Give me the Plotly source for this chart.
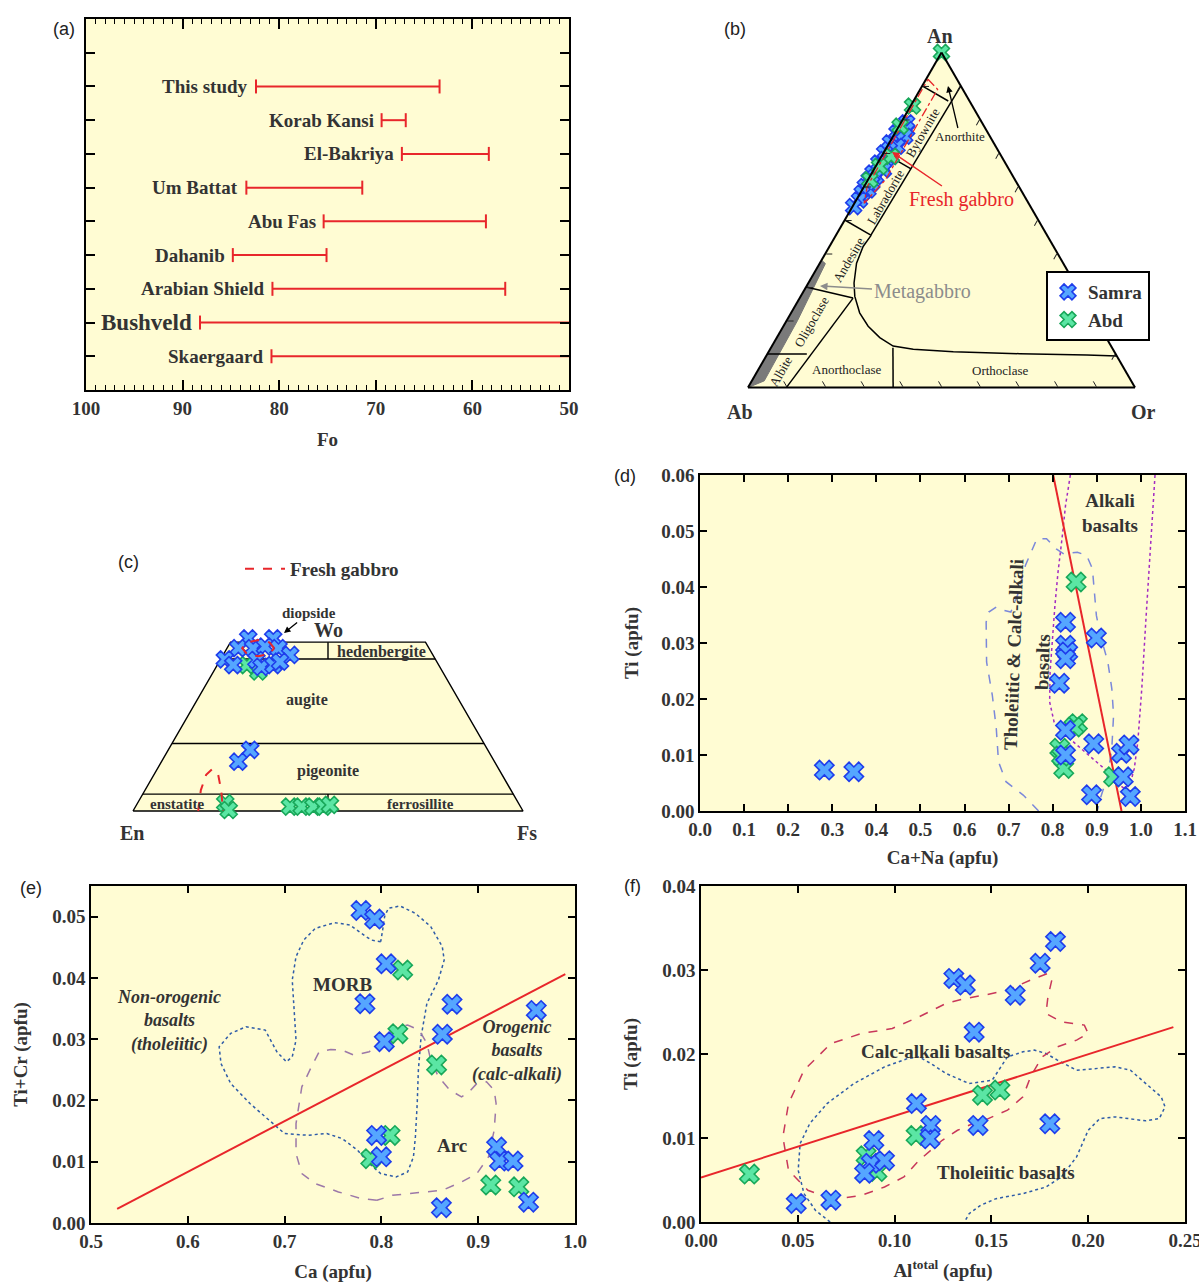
import math
import plotly.graph_objects as go

W, H = 1199, 1284
def fx(p): return p / W
def fy(p): return 1 - p / H

CREAM = "#FFFCD3"
SERIF = "Liberation Serif"
SANS = "Liberation Sans"
TXT = "#333333"
BLUE_FILL, BLUE_LINE = "#55A6FF", "#1F3DEB"
GREEN_FILL, GREEN_LINE = "#5BE6A4", "#19A85A"
RED = "#E8262B"

# ---------------- (a) olivine Fo ranges ----------------
a_sites = ["Skaergaard", "Bushveld", "Arabian Shield", "Dahanib", "Abu Fas",
           "Um Battat", "El-Bakriya", "Korab Kansi", "This study"]
a_fo_high = [80.8, 88.2, 80.7, 84.8, 75.4, 83.4, 67.3, 69.4, 82.4]
a_fo_low = [50.0, 50.0, 56.6, 75.1, 58.6, 71.4, 58.3, 66.9, 63.4]

# ---------------- (b) feldspar An-Ab-Or ----------------
b_samra_an = [79, 77, 76, 75, 74, 73, 72, 71, 70, 69, 68, 67, 66, 65, 64, 63, 62, 61, 60, 59, 58, 56, 54]
b_samra_or = [1.5, 2.5, 0.5, 3, 1.5, 0.3, 2.5, 1, 0.3, 2.5, 1.5, 0.3, 1.5, 2.5, 0.3, 1.5, 0.3, 1.5, 0.3, 1.5, 0.5, 0.8, 0.3]
b_abd_an = [100, 84, 78, 69, 66, 62]
b_abd_or = [0, 0.5, 0.3, 2.5, 1, 0.5]

# field boundaries (An, Or) pairs
b_inner_an = [90, 45.5]; b_inner_or = [10, 9]
b_div_an = [[90, 85.5], [70, 65.25], [50, 45.5], [30, 26.7], [10, 10]]
b_div_or = [[0, 9], [0, 9.5], [0, 9], [0, 13.8], [0, 10.2]]
b_obl_an = [0, 26.7]; b_obl_or = [9.9, 13.8]
b_curve_an = [45.5, 42.1, 37.1, 31.2, 27.2, 22.3, 18.3, 14.9, 12.4, 11.4, 10.7, 10.1, 9.7, 9.4]
b_curve_or = [9.1, 8.7, 9.5, 11.8, 14.0, 17.7, 21.9, 26.6, 31.3, 37.0, 47.7, 65.2, 82.7, 90.6]
b_vert_an = [11.9, 0]; b_vert_or = [31.5, 37.5]
b_meta_an = [0, 38, 37, 20, 2, 0]
b_meta_or = [0, 0, 1.5, 2.8, 3.2, 0]
b_fresh_an = [92, 89, 62, 55, 60, 92]
b_fresh_or = [0.5, 4.5, 4.5, 2.5, 0.8, 0.5]

# ---------------- (c) pyroxene quadrilateral (Wo, Fs) ----------------
c_samra_wo = [51.1, 51.1, 48.2, 48.2, 48.7, 48.2, 46.2, 44.9, 43.2, 44.7, 42.7, 43.2, 44.2, 18.1, 14.6]
c_samra_fs = [4.0, 10.4, 2.9, 6.7, 9.5, 13.2, 17.2, 1.1, 4.1, 9.3, 11.6, 14.4, 15.6, 21.0, 19.7]
c_abd_wo = [43.2, 41.3, 2.3, 0.3, 1.3, 1.3, 1.3, 1.3, 1.8]
c_abd_fs = [7.6, 11.5, 22.5, 24.4, 39.6, 42.6, 45.6, 48.2, 49.6]
c_fg_wo = [48.2, 49.9, 50.6, 49.9, 48.2, 46.5, 45.8, 46.5, 48.2, None, 0, 6.2, 10.7, 12.4, 10.7, 6.2, 0]
c_fg_fs = [12.1, 10.05, 6.8, 4.25, 3.9, 5.95, 9.2, 11.75, 12.1, None, 16.7, 14.3, 13.4, 14.1, 16.5, 19.5, 23.1]
c_trap_wo = [0, 0, 50, 50, 0]
c_trap_fs = [0, 100, 50, 0, 0]
c_div_wo = [45, 45, None, 20, 20, None, 5, 5, None, 45, 50, None, 0, 5]
c_div_fs = [0, 55, None, 0, 80, None, 0, 95, None, 27.5, 25, None, 50, 47.5]

# ---------------- (d) Ti vs Ca+Na ----------------
d_samra_x = [0.282, 0.349, 0.829, 0.899, 0.829, 0.834, 0.829, 0.815, 0.829, 0.893, 0.829, 0.956, 0.973, 0.960, 0.888, 0.976]
d_samra_y = [0.0073, 0.0070, 0.0337, 0.0309, 0.0296, 0.0284, 0.0272, 0.0228, 0.0144, 0.0120, 0.0100, 0.0103, 0.0118, 0.0061, 0.0029, 0.0026]
d_abd_x = [0.853, 0.856, 0.848, 0.816, 0.825, 0.938, 0.820]
d_abd_y = [0.0409, 0.0156, 0.0150, 0.0112, 0.0076, 0.0061, 0.0098]
d_line_x = [0.801, 0.956]; d_line_y = [0.06, 0.0]
d_thol_x = [0.768, 0.733, 0.694, 0.677, 0.672, 0.663, 0.650, 0.649, 0.655, 0.672, 0.690, 0.705, 0.720, 0.738, 0.764,
            0.786, 0.808, 0.825, 0.856, 0.877, 0.890, 0.895, 0.899, 0.908, 0.925, 0.934, 0.938, 0.934, 0.925, 0.908, 0.901]
d_thol_y = [0.0, 0.00285, 0.00523, 0.00879, 0.01473, 0.02067, 0.02661, 0.03374, 0.03553, 0.03642, 0.03582, 0.03553,
            0.03850, 0.04384, 0.04860, 0.04860, 0.04681, 0.04592, 0.04622, 0.04562, 0.04325, 0.03850, 0.03493,
            0.03137, 0.02661, 0.02186, 0.01711, 0.01117, 0.00642, 0.00226, 0.0]
d_alk_x = [0.840, 0.829, 0.821, 0.812, 0.805, 0.799, 0.794, 0.793, 0.803, 0.829, 0.864, 0.899, 0.925, 0.947, 0.962,
           0.976, 0.985, 0.993, 1.002, 1.011, 1.020, 1.027, 1.032]
d_alk_y = [0.06, 0.05454, 0.04860, 0.04265, 0.03671, 0.03077, 0.02483, 0.01949, 0.01592, 0.01355, 0.01117, 0.00879,
           0.00701, 0.00493, 0.00404, 0.00493, 0.00760, 0.01236, 0.02186, 0.03374, 0.04562, 0.05454, 0.06]

# ---------------- (e) Ti+Cr vs Ca ----------------
e_samra_x = [0.779, 0.793, 0.805, 0.783, 0.873, 0.960, 0.863, 0.803, 0.795, 0.800, 0.919, 0.922, 0.936, 0.952, 0.862]
e_samra_y = [0.0510, 0.0496, 0.0423, 0.0358, 0.0357, 0.0347, 0.0308, 0.0296, 0.0143, 0.0108, 0.0124, 0.0101, 0.0101, 0.0034, 0.0025]
e_abd_x = [0.822, 0.817, 0.857, 0.809, 0.789, 0.913, 0.942]
e_abd_y = [0.0413, 0.0309, 0.0258, 0.0143, 0.0105, 0.0062, 0.0059]
e_line_x = [0.527, 0.990]; e_line_y = [0.0023, 0.0406]
e_morb_x = [0.7993, 0.7893, 0.7794, 0.7675, 0.7516, 0.7317, 0.7198, 0.7118, 0.7079, 0.7099, 0.7118, 0.7079, 0.7019,
            0.6920, 0.6800, 0.6602, 0.6443, 0.6324, 0.6343, 0.6443, 0.6642, 0.6840, 0.6999, 0.7238, 0.7436, 0.7595,
            0.7754, 0.7874, 0.7993, 0.8152, 0.8271, 0.8331, 0.8351, 0.8370, 0.8382, 0.8410, 0.8470, 0.8589, 0.8649,
            0.8629, 0.8510, 0.8351, 0.8192, 0.8072, 0.8033, 0.8013, 0.7993]
e_morb_y = [0.04591, 0.04619, 0.04728, 0.04864, 0.04902, 0.04809, 0.04619, 0.04346, 0.03965, 0.03475, 0.02985,
            0.02712, 0.02631, 0.02794, 0.03148, 0.03203, 0.03094, 0.02876, 0.02603, 0.02277, 0.01950, 0.01678,
            0.01460, 0.01432, 0.01460, 0.01378, 0.01187, 0.00969, 0.00806, 0.00752, 0.00833, 0.01078, 0.01405,
            0.01950, 0.02495, 0.03039, 0.03584, 0.03965, 0.04292, 0.04510, 0.04837, 0.05054, 0.05174, 0.05136,
            0.05000, 0.04782, 0.04591]
e_arc_x = [0.7953, 0.7794, 0.7556, 0.7317, 0.7178, 0.7118, 0.7118, 0.7178, 0.7277, 0.7357, 0.7476, 0.7595, 0.7715,
           0.7874, 0.8033, 0.8152, 0.8271, 0.8390, 0.8470, 0.8510, 0.8589, 0.8708, 0.8828, 0.8907, 0.8986, 0.9086,
           0.9165, 0.9185, 0.9165, 0.9106, 0.8986, 0.8828, 0.8629, 0.8351, 0.8112, 0.7953]
e_arc_y = [0.00370, 0.00398, 0.00507, 0.00643, 0.00806, 0.01133, 0.01623, 0.02222, 0.02549, 0.02794, 0.02832,
           0.02821, 0.02740, 0.02794, 0.02985, 0.03203, 0.03230, 0.03148, 0.02930, 0.02658, 0.02386, 0.02168,
           0.02059, 0.02141, 0.02277, 0.02304, 0.02168, 0.01950, 0.01514, 0.01078, 0.00806, 0.00670, 0.00534,
           0.00490, 0.00452, 0.00370]

# ---------------- (f) Ti vs Al total ----------------
f_samra_x = [0.1306, 0.1365, 0.1623, 0.1752, 0.1831, 0.1411, 0.1113, 0.1187, 0.1183, 0.1431, 0.1802, 0.0893, 0.0879,
             0.0948, 0.0845, 0.0492, 0.0671]
f_samra_y = [0.0290, 0.0282, 0.0270, 0.0308, 0.0334, 0.0226, 0.0141, 0.0115, 0.0099, 0.0115, 0.0117, 0.0097, 0.0070,
             0.0073, 0.0058, 0.0022, 0.0026]
f_abd_x = [0.025, 0.0853, 0.0909, 0.1111, 0.1454, 0.1544]
f_abd_y = [0.0057, 0.0079, 0.0060, 0.0103, 0.0151, 0.0157]
f_line_x = [0.0, 0.244]; f_line_y = [0.0053, 0.0232]
f_calc_x = [0.0671, 0.0552, 0.0452, 0.0423, 0.0452, 0.0532, 0.0671, 0.0829, 0.0988, 0.1127, 0.1266, 0.1365, 0.1464,
            0.1583, 0.1702, 0.1792, 0.1812, 0.1792, 0.1782, 0.1861, 0.1980, 0.2000, 0.1940, 0.1841, 0.1762, 0.1702,
            0.1663, 0.1583, 0.1484, 0.1405, 0.1325, 0.1246, 0.1187, 0.1127, 0.1048, 0.0948, 0.0829, 0.0710, 0.0671]
f_calc_y = [0.00278, 0.00377, 0.00616, 0.01013, 0.01410, 0.01807, 0.02125, 0.02244, 0.02304, 0.02443, 0.02602,
            0.02661, 0.02701, 0.02761, 0.02880, 0.02959, 0.02880, 0.02681, 0.02483, 0.02383, 0.02344, 0.02244,
            0.02165, 0.02085, 0.01966, 0.01728, 0.01490, 0.01331, 0.01231, 0.01172, 0.01092, 0.00973, 0.00854,
            0.00735, 0.00536, 0.00417, 0.00318, 0.00278, 0.00278]
f_thol_x = [0.0667, 0.0591, 0.0532, 0.0502, 0.0512, 0.0562, 0.0651, 0.0790, 0.0948, 0.1067, 0.1127, 0.1187, 0.1266,
            0.1385, 0.1504, 0.1583, 0.1663, 0.1722, 0.1782, 0.1841, 0.1940, 0.2040, 0.2139, 0.2218, 0.2298, 0.2377,
            0.2397, 0.2367, 0.2298, 0.2218, 0.2139, 0.2060, 0.2000, 0.1940, 0.1861, 0.1782, 0.1663, 0.1524, 0.1444,
            0.1385, 0.1361]
f_thol_y = [0.0, 0.00139, 0.00338, 0.00616, 0.00933, 0.01172, 0.01410, 0.01648, 0.01847, 0.01946, 0.01966, 0.01887,
            0.01768, 0.01648, 0.01688, 0.01966, 0.02026, 0.02046, 0.02006, 0.01927, 0.01807, 0.01827, 0.01847,
            0.01807, 0.01648, 0.01490, 0.01370, 0.01231, 0.01204, 0.01231, 0.01251, 0.01231, 0.01092, 0.00775,
            0.00536, 0.00417, 0.00338, 0.00278, 0.00199, 0.00099, 0.0]

fig = go.Figure()

def mk(fill, line, size):
    return dict(symbol="x", size=size, color=fill, line=dict(color=line, width=1.6))

# ---- (a) ----
bx, by, cx, cy = [], [], [], []
for i, (hi, lo) in enumerate(zip(a_fo_high, a_fo_low)):
    pos = i + 1
    bx += [hi, lo, None]; by += [pos, pos, None]
    cx.append(hi); cy.append(pos)
    if lo > 50:
        cx.append(lo); cy.append(pos)
fig.add_trace(go.Scatter(x=bx, y=by, mode="lines", line=dict(color=RED, width=2),
                         xaxis="x", yaxis="y", showlegend=False, hoverinfo="skip"))
fig.add_trace(go.Scatter(x=cx, y=cy, mode="markers", xaxis="x", yaxis="y", showlegend=False,
                         marker=dict(symbol="line-ns", size=10, line=dict(color=RED, width=2))))

# ---- (b) ternary ----
def tern(an, orr):
    a = list(an); c = list(orr)
    b = [None if (x is None) else 100 - x - y for x, y in zip(a, c)]
    return a, b, c

def tline(an, orr, color="black", width=1.5, dash="solid", fill=None, fillcolor=None):
    a, b, c = tern(an, orr)
    fig.add_trace(go.Scatterternary(a=a, b=b, c=c, mode="lines", subplot="ternary", showlegend=False,
                                    line=dict(color=color, width=width, dash=dash), fill=fill,
                                    fillcolor=fillcolor, hoverinfo="skip"))

tline(b_meta_an, b_meta_or, color="#777777", width=1, fill="toself", fillcolor="#7a7a7a")
tline(b_inner_an, b_inner_or)
for an_, or_ in zip(b_div_an, b_div_or):
    tline(an_, or_)
tline(b_obl_an, b_obl_or)
tline(b_curve_an, b_curve_or)
tline(b_vert_an, b_vert_or)

a, b, c = tern(b_samra_an, b_samra_or)
fig.add_trace(go.Scatterternary(a=a, b=b, c=c, mode="markers", subplot="ternary", name="Samra",
                                marker=mk(BLUE_FILL, BLUE_LINE, 14), showlegend=True, legend="legend",
                                cliponaxis=False))
a, b, c = tern(b_abd_an, b_abd_or)
fig.add_trace(go.Scatterternary(a=a, b=b, c=c, mode="markers", subplot="ternary", name="Abd",
                                marker=mk(GREEN_FILL, GREEN_LINE, 14), showlegend=True, legend="legend",
                                cliponaxis=False))
tline(b_fresh_an, b_fresh_or, color=RED, width=1.3, dash="dashdot")

# ---- (c) pyroxene quadrilateral (cartesian from Wo/Fs) ----
S3 = math.sqrt(3) / 2
def qx(wo, fs): return [None if w is None else f + w / 2 for w, f in zip(wo, fs)]
def qy(wo): return [None if w is None else w * S3 for w in wo]

fig.add_trace(go.Scatter(x=qx(c_trap_wo, c_trap_fs), y=qy(c_trap_wo), mode="lines", fill="toself",
                         fillcolor=CREAM, line=dict(color="black", width=1.4), xaxis="x3", yaxis="y3",
                         showlegend=False, hoverinfo="skip"))
fig.add_trace(go.Scatter(x=qx(c_div_wo, c_div_fs), y=qy(c_div_wo), mode="lines",
                         line=dict(color="black", width=1.4), xaxis="x3", yaxis="y3", showlegend=False,
                         hoverinfo="skip"))
fig.add_trace(go.Scatter(x=qx(c_abd_wo, c_abd_fs), y=qy(c_abd_wo), mode="markers", marker=mk(GREEN_FILL, GREEN_LINE, 15),
                         xaxis="x3", yaxis="y3", showlegend=False))
fig.add_trace(go.Scatter(x=qx(c_samra_wo, c_samra_fs), y=qy(c_samra_wo), mode="markers", marker=mk(BLUE_FILL, BLUE_LINE, 15),
                         xaxis="x3", yaxis="y3", showlegend=False))
fig.add_trace(go.Scatter(x=qx(c_fg_wo, c_fg_fs), y=qy(c_fg_wo), mode="lines", name="Fresh gabbro",
                         line=dict(color=RED, width=2, dash="dash"), xaxis="x3", yaxis="y3",
                         showlegend=True, legend="legend2", hoverinfo="skip"))

# ---- (d) ----
def field(x, y, ax, ay, color, dash, width=1.5):
    fig.add_trace(go.Scatter(x=x, y=y, mode="lines", line=dict(color=color, width=width, dash=dash),
                             xaxis=ax, yaxis=ay, showlegend=False, hoverinfo="skip"))

field(d_thol_x, d_thol_y, "x4", "y4", "#7B88DA", "dash")
field(d_alk_x, d_alk_y, "x4", "y4", "#A32BC2", "dot")
field(d_line_x, d_line_y, "x4", "y4", RED, "solid", 2)
fig.add_trace(go.Scatter(x=d_abd_x, y=d_abd_y, mode="markers", marker=mk(GREEN_FILL, GREEN_LINE, 17),
                         xaxis="x4", yaxis="y4", showlegend=False))
fig.add_trace(go.Scatter(x=d_samra_x, y=d_samra_y, mode="markers", marker=mk(BLUE_FILL, BLUE_LINE, 17),
                         xaxis="x4", yaxis="y4", showlegend=False))

# ---- (e) ----
field(e_morb_x, e_morb_y, "x5", "y5", "#2F5CA8", "dot")
field(e_arc_x, e_arc_y, "x5", "y5", "#9C78A8", "dash")
field(e_line_x, e_line_y, "x5", "y5", RED, "solid", 2)
fig.add_trace(go.Scatter(x=e_abd_x, y=e_abd_y, mode="markers", marker=mk(GREEN_FILL, GREEN_LINE, 17),
                         xaxis="x5", yaxis="y5", showlegend=False))
fig.add_trace(go.Scatter(x=e_samra_x, y=e_samra_y, mode="markers", marker=mk(BLUE_FILL, BLUE_LINE, 17),
                         xaxis="x5", yaxis="y5", showlegend=False))

# ---- (f) ----
field(f_thol_x, f_thol_y, "x6", "y6", "#2F5CA8", "dot")
field(f_calc_x, f_calc_y, "x6", "y6", "#C8375A", "dash")
field(f_line_x, f_line_y, "x6", "y6", RED, "solid", 2)
fig.add_trace(go.Scatter(x=f_abd_x, y=f_abd_y, mode="markers", marker=mk(GREEN_FILL, GREEN_LINE, 17),
                         xaxis="x6", yaxis="y6", showlegend=False))
fig.add_trace(go.Scatter(x=f_samra_x, y=f_samra_y, mode="markers", marker=mk(BLUE_FILL, BLUE_LINE, 17),
                         xaxis="x6", yaxis="y6", showlegend=False))

# ---------------- axes ----------------
TICKFONT = dict(family=SERIF, size=19, color=TXT, weight="bold")
TITLEFONT = dict(family=SERIF, size=19, color=TXT, weight="bold")

def ax(domain_px, rng, horizontal, **kw):
    if horizontal:
        dom = [fx(domain_px[0]), fx(domain_px[1])]
    else:
        dom = [fy(domain_px[1]), fy(domain_px[0])]
    d = dict(domain=dom, range=rng, showline=True, linecolor="black", linewidth=1.6, mirror="ticks",
             ticks="inside", ticklen=7, tickwidth=1.5, tickcolor="black", showgrid=False, zeroline=False,
             tickfont=TICKFONT, fixedrange=True, automargin=False, ticklabeloverflow="allow")
    d.update(kw)
    return d

C_XR = [(110 - 133) / 3.9, (560 - 133) / 3.9]
C_YR = [(811 - 850) / 3.9, (811 - 540) / 3.9]

tern_axis = dict(showticklabels=False, showgrid=False, linecolor="black", linewidth=2, ticks="inside",
                 ticklen=6, dtick=10, tickcolor="#222", title=dict(text=""))

layout = dict(
    width=W, height=H, autosize=False, margin=dict(l=0, r=0, t=0, b=0, autoexpand=False),
    paper_bgcolor="white", plot_bgcolor=CREAM, font=dict(family=SERIF, color=TXT),
    xaxis=ax([86, 569], [100, 50], True, anchor="y", tickvals=[100, 90, 80, 70, 60, 50], ticklen=10,
             minor=dict(dtick=1, ticklen=5, ticks="inside", tickcolor="black", tickwidth=1.3),
             title=dict(text="Fo", font=TITLEFONT, standoff=15)),
    yaxis=ax([19, 390], [0, 11], False, anchor="x", tickvals=list(range(1, 11)), showticklabels=False, ticklen=9),
    xaxis3=dict(domain=[fx(110), fx(560)], range=C_XR, visible=False, anchor="y3", fixedrange=True, automargin=False),
    yaxis3=dict(domain=[fy(850), fy(540)], range=C_YR, visible=False, anchor="x3", fixedrange=True, automargin=False),
    xaxis4=ax([700, 1185], [0, 1.1], True, anchor="y4", dtick=0.1, tick0=0, tickformat=".1f",
              title=dict(text="Ca+Na (apfu)", font=TITLEFONT, standoff=12)),
    yaxis4=ax([475, 811], [0, 0.06], False, anchor="x4", dtick=0.01, tick0=0, tickformat=".2f",
              title=dict(text="Ti (apfu)", font=TITLEFONT, standoff=18)),
    xaxis5=ax([91, 575], [0.5, 1.0], True, anchor="y5", dtick=0.1, tick0=0, tickformat=".1f",
              title=dict(text="Ca (apfu)", font=TITLEFONT, standoff=14)),
    yaxis5=ax([886, 1223], [0, 0.055], False, anchor="x5", dtick=0.01, tick0=0, tickformat=".2f",
              title=dict(text="Ti+Cr (apfu)", font=TITLEFONT, standoff=20)),
    xaxis6=ax([701, 1185], [0, 0.25], True, anchor="y6", dtick=0.05, tick0=0, tickformat=".2f",
              title=dict(text="Al<sup>total</sup> (apfu)", font=TITLEFONT, standoff=14)),
    yaxis6=ax([886, 1222], [0, 0.04], False, anchor="x6", dtick=0.01, tick0=0, tickformat=".2f",
              title=dict(text="Ti (apfu)", font=TITLEFONT, standoff=20)),
    ternary=dict(
        domain=dict(x=[fx(748), fx(1135)], y=[fy(388), fy(52)]), sum=100, bgcolor=CREAM,
        aaxis=tern_axis, baxis=tern_axis, caxis=tern_axis,
    ),
    legend=dict(x=fx(1046), y=fy(271), xanchor="left", yanchor="top", bgcolor="white", bordercolor="black",
                borderwidth=2, font=dict(family=SERIF, size=19, color=TXT, weight="bold"),
                tracegroupgap=2, itemwidth=30),
    legend2=dict(x=fx(240), y=fy(550), xanchor="left", yanchor="top", bgcolor="rgba(0,0,0,0)",
                 borderwidth=0, font=dict(family=SERIF, size=19, color=TXT, weight="bold"), itemwidth=40),
    shapes=[dict(type="rect", xref="x3", yref="y3", x0=C_XR[0], x1=C_XR[1], y0=C_YR[0], y1=C_YR[1],
                 fillcolor="white", line=dict(width=0), layer="below")],
)
fig.update_layout(**layout)

ann = []
def note(text, px, py, size=19, color=TXT, bold=True, italic=False, angle=0, family=SERIF,
         head=None, acolor="black", awidth=1.3):
    t = text
    if italic:
        t = "<i>" + t + "</i>"
    d = dict(text=t, xref="paper", yref="paper", textangle=angle, xanchor="center", yanchor="middle",
             font=dict(family=family, size=size, color=color, weight="bold" if bold else "normal"))
    if head is None:
        d.update(x=fx(px), y=fy(py), showarrow=False)
    else:
        d.update(x=fx(head[0]), y=fy(head[1]), showarrow=True, ax=px - head[0], ay=py - head[1],
                 arrowhead=2, arrowsize=1, arrowwidth=awidth, arrowcolor=acolor)
    ann.append(d)

# panel letters
for lab, px, py in [("(a)", 64, 29), ("(b)", 735, 29), ("(c)", 128, 562), ("(d)", 625, 476),
                    ("(e)", 31, 888), ("(f)", 632, 886)]:
    note(lab, px, py, size=18, bold=False, family=SANS, color="#222")

# (a) site labels
for i, (name, hi) in enumerate(zip(a_sites, a_fo_high)):
    ann.append(dict(text=name, x=hi, y=i + 1, xref="x", yref="y", showarrow=False, xanchor="right",
                    yanchor="middle", xshift=-6,
                    font=dict(family=SERIF, size=23 if name == "Bushveld" else 19, color=TXT, weight="bold")))

# (b) labels
note("An", 940, 36, size=20)
note("Ab", 740, 412, size=20)
note("Or", 1143, 412, size=20)
for txt, px, py, ang in [("Bytownite", 923, 133, -60), ("Labradorite", 885, 197, -60), ("Andesine", 848, 260, -60),
                         ("Oligoclase", 812, 322, -60), ("Albite", 781, 372, -60),
                         ("Anorthoclase", 847, 370, 0), ("Orthoclase", 1000, 371, 0)]:
    note(txt, px, py, size=13, bold=False, angle=ang, color="#222")
note("Anorthite", 960, 137, size=13, bold=False, color="#222", head=(948, 86))
note("Fresh gabbro", 961, 199, size=20, bold=False, color=RED, head=(892, 152), acolor=RED, awidth=1.5)
note("Metagabbro", 922, 292, size=20, bold=False, color="#8C8C8C", head=(820, 286), acolor="#8C8C8C", awidth=1.5)

# (c) labels
note("diopside", 309, 613, size=15, head=(284, 633))
note("Wo", 328, 630, size=20)
note("hedenbergite", 381, 652, size=16)
note("augite", 307, 700, size=16)
note("pigeonite", 328, 771, size=16)
note("enstatite", 177, 804, size=15)
note("ferrosillite", 420, 804, size=15)
note("En", 132, 833, size=20)
note("Fs", 527, 833, size=20)

# (d) labels
note("Alkali<br>basalts", 1110, 513, size=19)
note("Tholeiitic & Calc-alkali", 1013, 655, size=19, angle=-88)
note("basalts", 1042, 662, size=19, angle=-88)

# (e) labels
note("MORB", 342, 985, size=19)
note("Non-orogenic<br>basalts<br>(tholeiitic)", 169, 1021, size=18, italic=True)
note("Orogenic<br>basalts<br>(calc-alkali)", 517, 1051, size=18, italic=True)
note("Arc", 452, 1145, size=19)

# (f) labels
note("Calc-alkali basalts", 935, 1051, size=19)
note("Tholeiitic basalts", 1006, 1172, size=19)

fig.update_layout(annotations=ann)
fig.write_html("out.html", config={"displayModeBar": False},
               post_script="document.body.style.margin='0';document.body.style.overflow='hidden';")
